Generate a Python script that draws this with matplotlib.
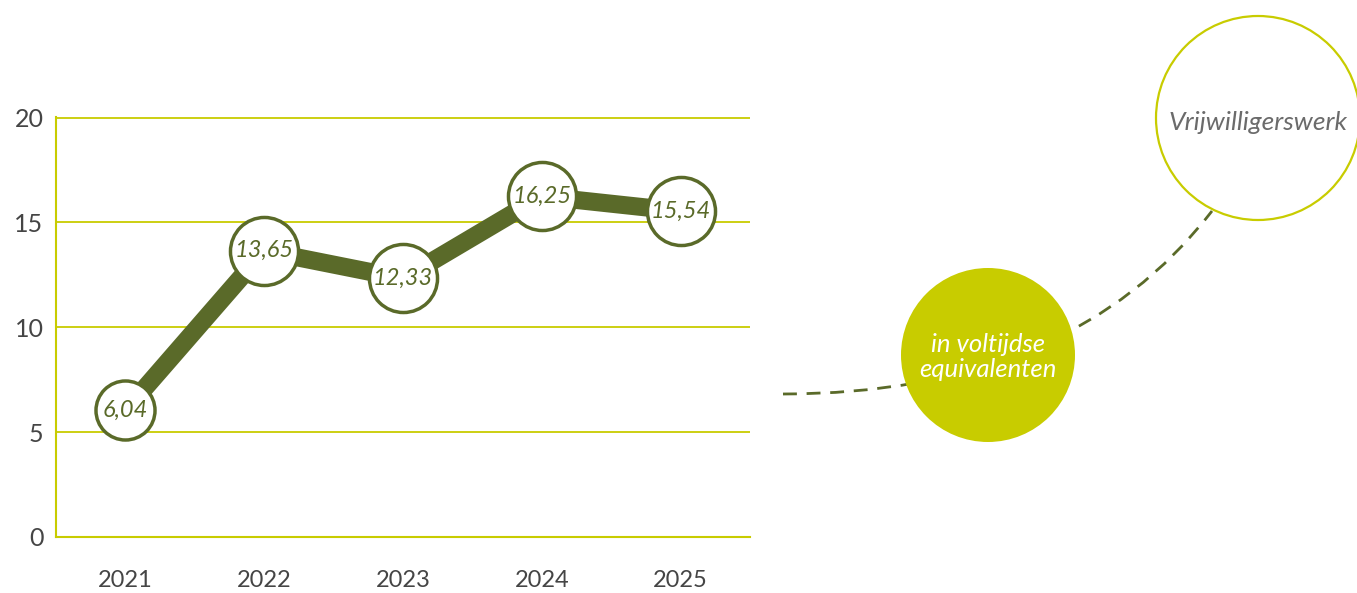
import matplotlib.pyplot as plt
from matplotlib.patches import Circle, PathPatch
from matplotlib.path import Path

YEARS = ["2021", "2022", "2023", "2024", "2025"]
VALUES = [6.04, 13.65, 12.33, 16.25, 15.54]
Y_TICKS = [0, 5, 10, 15, 20]

TITLE = "Vrijwilligerswerk"
SUBTITLE = "in voltijdse\nequivalenten"

OLIVE = "#5a6a29"
LIME = "#c8cc00"
GREY = "#454545"
FONT = "Lato"

W, H = 1357, 593


def main() -> None:
    plt.rcParams["font.family"] = [FONT, "DejaVu Sans"]
    fig = plt.figure(figsize=(W / 100, H / 100), dpi=100)

    # Main line chart.
    ax = fig.add_axes([56 / W, 56 / H, 694 / W, 420 / H])
    x = list(range(len(YEARS)))
    ax.plot(x, VALUES, color=OLIVE, linewidth=13, solid_capstyle="butt", zorder=3)
    for xi, v in zip(x, VALUES):
        label = f"{v:.2f}".replace(".", ",")
        # The bubble grows with the width of its label.
        ax.plot(
            xi, v, linestyle="none", marker="o", markersize=6.5 * len(label) + 16.5,
            markerfacecolor="white", markeredgecolor=OLIVE, markeredgewidth=2.5,
            zorder=4, clip_on=False,
        )
        ax.text(xi, v, label, ha="center", va="center", fontsize=17,
                style="italic", color=OLIVE, zorder=5)

    ax.set_xlim(-0.5, len(YEARS) - 0.5)
    ax.set_ylim(0, 20.03)
    ax.set_xticks(x)
    ax.set_xticklabels(YEARS)
    ax.set_yticks(Y_TICKS)
    ax.tick_params(axis="both", length=0, labelcolor=GREY)
    ax.tick_params(axis="y", labelsize=18, pad=9)
    ax.tick_params(axis="x", labelsize=17, pad=24)
    ax.grid(axis="y", color=LIME, linewidth=1.3)
    ax.set_axisbelow(True)
    for side in ("top", "right"):
        ax.spines[side].set_visible(False)
    for side in ("left", "bottom"):
        ax.spines[side].set_color(LIME)
        ax.spines[side].set_linewidth(1.5)

    # Decoration on the right, drawn in pixel coordinates.
    deco = fig.add_axes([0, 0, 1, 1])
    deco.set_xlim(0, W)
    deco.set_ylim(0, H)
    deco.axis("off")

    arc = Path([(783, 199), (1071, 199), (1212, 382)],
               [Path.MOVETO, Path.CURVE3, Path.CURVE3])
    deco.add_patch(PathPatch(arc, fill=False, edgecolor=OLIVE, linewidth=2,
                             linestyle=(0, (5, 3.5)), zorder=1))

    deco.add_patch(Circle((988, 238), 87, facecolor=LIME, edgecolor="none", zorder=2))
    deco.text(988, 236, SUBTITLE, ha="center", va="center", color="white",
              fontsize=18.5, style="italic", linespacing=1.1, zorder=3)

    deco.add_patch(Circle((1258, 475), 102, facecolor="white", edgecolor=LIME,
                          linewidth=1.6, zorder=2))
    deco.text(1258, 470, TITLE, ha="center", va="center", color="#6b6b6b",
              fontsize=19, style="italic", zorder=3)

    fig.savefig("out.png", dpi=100)


if __name__ == "__main__":
    main()
